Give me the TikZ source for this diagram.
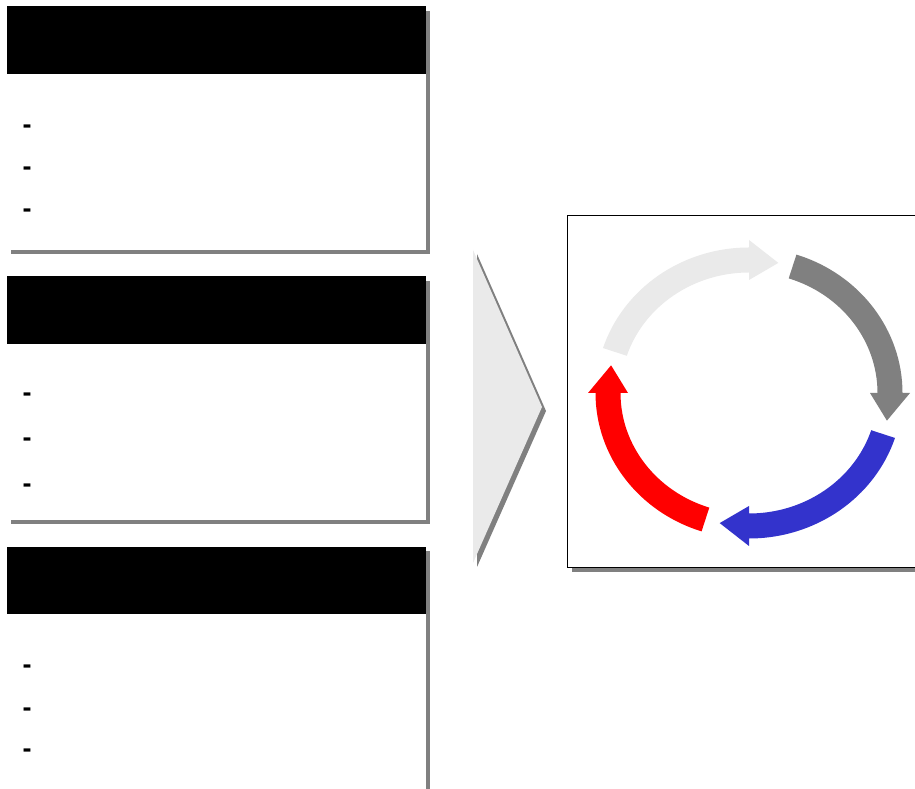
\documentclass[tikz,border=0pt]{standalone}
\usepackage{fontspec}
\setmainfont{Liberation Sans}
\definecolor{shadowgray}{HTML}{808080}
\definecolor{palegray}{HTML}{EAEAEA}
\definecolor{cycgray}{HTML}{808080}
\definecolor{cycblue}{HTML}{3333CC}
\definecolor{cycred}{HTML}{FF0000}
\newcommand\cycarrow[2]{%
  \pgfmathsetmacro\cta{#1}%
  \pgfmathsetmacro\ctb{#1-72}%
  \pgfmathsetmacro\ctc{#1-84}%
  \fill[#2] (\cta:153.5 and 145.5)
    arc[start angle=\cta, end angle=\ctb, x radius=153.5, y radius=145.5]
    -- (\ctb:161 and 153) -- (\ctc:141 and 133) -- (\ctb:121 and 113)
    -- (\ctb:128.5 and 120.5)
    arc[start angle=\ctb, end angle=\cta, x radius=128.5, y radius=120.5]
    -- cycle;}
\begin{document}
\begin{tikzpicture}[x=1pt,y=1pt,
  headerbar/.style={fill=black},
  bodybox/.style={fill=white},
  shadowfill/.style={fill=shadowgray},
  dashmark/.style={anchor=base west, inner sep=0pt, font=\fontsize{27}{27}\selectfont\bfseries}]
\useasboundingbox (0,0) rectangle (915,789);
\fill[white] (0,0) rectangle (915,789);
\begin{scope}
\clip (0,0) rectangle (915,789);
% box 1
\fill[shadowfill] (11,778) rectangle (430,535);
\fill[bodybox] (7,783) rectangle (426,539);
\fill[headerbar] (7,783) rectangle (426,715);
\node[dashmark] (d11) at (22.4,655.7) {-};
\node[dashmark] (d12) at (22.4,613.7) {-};
\node[dashmark] (d13) at (22.4,571.7) {-};
% box 2
\fill[shadowfill] (11,508) rectangle (430,265);
\fill[bodybox] (7,513) rectangle (426,269);
\fill[headerbar] (7,513) rectangle (426,445);
\node[dashmark] (d21) at (22.4,387.7) {-};
\node[dashmark] (d22) at (22.4,342.7) {-};
\node[dashmark] (d23) at (22.4,296.7) {-};
% box 3
\fill[shadowfill] (11,238) rectangle (430,-30);
\fill[bodybox] (7,242) rectangle (426,-26);
\fill[headerbar] (7,242) rectangle (426,175);
\node[dashmark] (d31) at (22.4,115.7) {-};
\node[dashmark] (d32) at (22.4,72.7) {-};
\node[dashmark] (d33) at (22.4,31.7) {-};
% chevron
\fill[shadowfill] (477,535) -- (546,378) -- (477,222) -- cycle;
\fill[palegray] (473,539) -- (542,382) -- (473,226) -- cycle;
% cycle box
\fill[shadowfill] (572,569) rectangle (930,217);
\filldraw[fill=white, draw=black, line width=0.8pt] (567,574) rectangle (925,222);
\begin{scope}[shift={(749,396)}]
\cycarrow{162}{palegray}
\cycarrow{72}{cycgray}
\cycarrow{-18}{cycblue}
\cycarrow{-108}{cycred}
\end{scope}
\end{scope}
\end{tikzpicture}
\end{document}
